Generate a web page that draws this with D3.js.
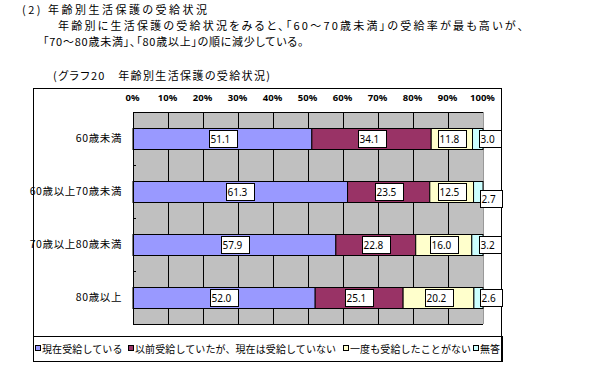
<!DOCTYPE html>
<html><head><meta charset="utf-8">
<script src="https://cdn.jsdelivr.net/npm/d3@7"></script>
<style>
html,body{margin:0;padding:0;background:#fff;}
svg{display:block;}
text{font-family:"Noto Sans CJK JP","Noto Sans",sans-serif;fill:#000;}
.palt{font-feature-settings:"palt" 1;}
</style></head>
<body>
<svg id="c" width="589" height="365"></svg>
<script>
// ---- data ----
const categories = ["60歳未満", "60歳以上70歳未満", "70歳以上80歳未満", "80歳以上"];
const seriesNames = ["現在受給している", "以前受給していたが、現在は受給していない", "一度も受給したことがない", "無答"];
const currentRecv = [51.1, 61.3, 57.9, 52.0];
const formerRecv  = [34.1, 23.5, 22.8, 25.1];
const neverRecv   = [11.8, 12.5, 16.0, 20.2];
const noAnswer    = [3.0, 2.7, 3.2, 2.6];
const tickValues  = [0, 10, 20, 30, 40, 50, 60, 70, 80, 90, 100];
const tickLabels  = ["0%", "10%", "20%", "30%", "40%", "50%", "60%", "70%", "80%", "90%", "100%"];
const headingText = "(2) 年齢別生活保護の受給状況";
const bodyLines = ["年齢別に生活保護の受給状況をみると、「60～70歳未満」の受給率が最も高いが、",
                   "「70～80歳未満」、「80歳以上」の順に減少している。"];
const chartTitle = "(グラフ20　年齢別生活保護の受給状況)";

// ---- styles / layout ----
const colors = ["#9999FF", "#993366", "#FFFFCC", "#CCFFFF"];
const plot = {left: 133, right: 483, top: 112, bottom: 324};
const labelDy = [[0,0,0,0],[0,0,0,7],[0,0,0,0],[0,0,0,0]];

const svg = d3.select("#c");

// heading text
const headLines = [
  {t: headingText, x: 22, y: 14, w: 185, ls: null},
  {t: bodyLines[0], x: 58, y: 30, w: 465, ls: null},
  {t: bodyLines[1], x: 43, y: 46, w: null, ls: 0.75},
  {t: chartTitle, x: 53, y: 80, w: 217, ls: null}
];
svg.append("g").selectAll("text").data(headLines).join("text")
  .attr("class", "palt")
  .attr("x", d => d.x).attr("y", d => d.y).attr("font-size", 11)
  .attr("textLength", d => d.w).attr("lengthAdjust", d => d.w ? "spacing" : null)
  .attr("letter-spacing", d => d.ls)
  .text(d => d.t);

// chart frame
svg.append("rect").attr("x", 33.5).attr("y", 88.5).attr("width", 468).attr("height", 273)
  .attr("fill", "#fff").attr("stroke", "#000");

const x = d3.scaleLinear().domain([0, 100]).range([plot.left, plot.right]);
const y = d3.scaleBand().domain(categories).range([plot.top, plot.bottom])
  .paddingInner(0.6).paddingOuter(0.3);

// plot background
svg.append("rect").attr("x", plot.left).attr("y", plot.top)
  .attr("width", plot.right - plot.left).attr("height", plot.bottom - plot.top)
  .attr("fill", "#C0C0C0");

// gridlines
svg.append("g").selectAll("line").data(tickValues.filter(v => v > 0 && v < 100)).join("line")
  .attr("x1", d => Math.round(x(d)) + 0.5).attr("x2", d => Math.round(x(d)) + 0.5)
  .attr("y1", plot.top).attr("y2", plot.bottom).attr("stroke", "#000");
svg.append("line").attr("x1", plot.right + 0.5).attr("x2", plot.right + 0.5)
  .attr("y1", plot.top).attr("y2", plot.bottom).attr("stroke", "#999");

// top value axis (labels only + axis line)
const xAxis = d3.axisTop(x).tickValues(tickValues).tickSize(0).tickPadding(0)
  .tickFormat((d, i) => tickLabels[i]);
const gx = svg.append("g").attr("transform", `translate(0,${plot.top - 11})`).call(xAxis);
gx.select(".domain").remove();
gx.selectAll("text").attr("font-size", 9.5).attr("font-weight", "bold").attr("dx", -1)
  .style("font-family", '"Noto Sans", sans-serif');
svg.append("line").attr("x1", plot.left).attr("x2", plot.right)
  .attr("y1", plot.top + 0.5).attr("y2", plot.top + 0.5).attr("stroke", "#000");
svg.append("line").attr("x1", plot.left).attr("x2", plot.right)
  .attr("y1", plot.bottom + 0.5).attr("y2", plot.bottom + 0.5).attr("stroke", "#000");

// stacked data
const series = [currentRecv, formerRecv, neverRecv, noAnswer];
const rows = categories.map((c, i) => {
  const vals = series.map(s => s[i]);
  const tot = d3.sum(vals);
  let acc = 0;
  return vals.map((v, k) => {
    const seg = {cat: c, ci: i, k, v, x0: acc / tot * 100, x1: (acc + v) / tot * 100};
    acc += v;
    return seg;
  });
});
const segs = rows.flat();

svg.append("g").selectAll("rect").data(segs).join("rect")
  .attr("x", d => x(d.x0)).attr("width", d => x(d.x1) - x(d.x0))
  .attr("y", d => Math.round(y(d.cat)) + 0.5).attr("height", Math.round(y.bandwidth()))
  .attr("fill", d => colors[d.k]).attr("stroke", "#000").attr("stroke-width", 1);

// left category axis
const yAxis = d3.axisLeft(y).tickSize(0).tickPadding(11);
const gy = svg.append("g").attr("transform", `translate(${plot.left},0)`).call(yAxis);
gy.select(".domain").remove();
gy.selectAll("text").attr("font-size", 10.5).attr("letter-spacing", 0.6);
svg.append("line").attr("x1", plot.left + 0.5).attr("x2", plot.left + 0.5)
  .attr("y1", plot.top).attr("y2", plot.bottom + 1).attr("stroke", "#000");
// category boundary ticks
svg.append("g").selectAll("line").data(categories.slice(1)).join("line")
  .attr("x1", plot.left).attr("x2", plot.left + 3)
  .attr("y1", d => Math.round(y(d) - y.step() * y.paddingInner() / 2) + 0.5)
  .attr("y2", d => Math.round(y(d) - y.step() * y.paddingInner() / 2) + 0.5)
  .attr("stroke", "#000");

// data labels
const lbl = svg.append("g").selectAll("g").data(segs).join("g");
lbl.each(function(d) {
  const g = d3.select(this);
  const txt = d.v.toFixed(1);
  const t = g.append("text").attr("font-size", 10).style("font-family", '"Noto Sans", sans-serif').text(txt);
  const w = t.node().getComputedTextLength();
  const bw = w + 8;
  const bh = 17;
  const cx = x((d.x0 + d.x1) / 2);
  const segW = x(d.x1) - x(d.x0);
  let left = segW < bw ? cx + 1.5 : cx - bw / 2;
  left = Math.round(left);
  const cy = y(d.cat) + y.bandwidth() / 2 + labelDy[d.ci][d.k];
  const top = Math.round(cy - bh / 2);
  g.insert("rect", "text").attr("x", left + 0.5).attr("y", top + 0.5).attr("width", Math.round(bw))
    .attr("height", bh).attr("fill", "#fff").attr("stroke", "#000");
  t.attr("x", left + 1.5).attr("y", top + 13);
});

// legend
svg.append("rect").attr("x", 33.5).attr("y", 336.5).attr("width", 469).attr("height", 25)
  .attr("fill", "#fff").attr("stroke", "#000");
svg.append("line").attr("x1", 501.5).attr("x2", 501.5).attr("y1", 336).attr("y2", 362).attr("stroke", "#000");
const legendX = [35, 128, 343, 473];
const lg = svg.append("g").selectAll("g").data(seriesNames).join("g")
  .attr("transform", (d, i) => `translate(${legendX[i]},349)`);
lg.append("rect").attr("x", 0.5).attr("y", -3.5).attr("width", 5).attr("height", 5)
  .attr("fill", (d, i) => colors[i]).attr("stroke", "#000");
lg.append("text").attr("x", 7).attr("y", 4).attr("font-size", 10).attr("letter-spacing", 0.1)
  .text(d => d);
</script>
</body></html>
